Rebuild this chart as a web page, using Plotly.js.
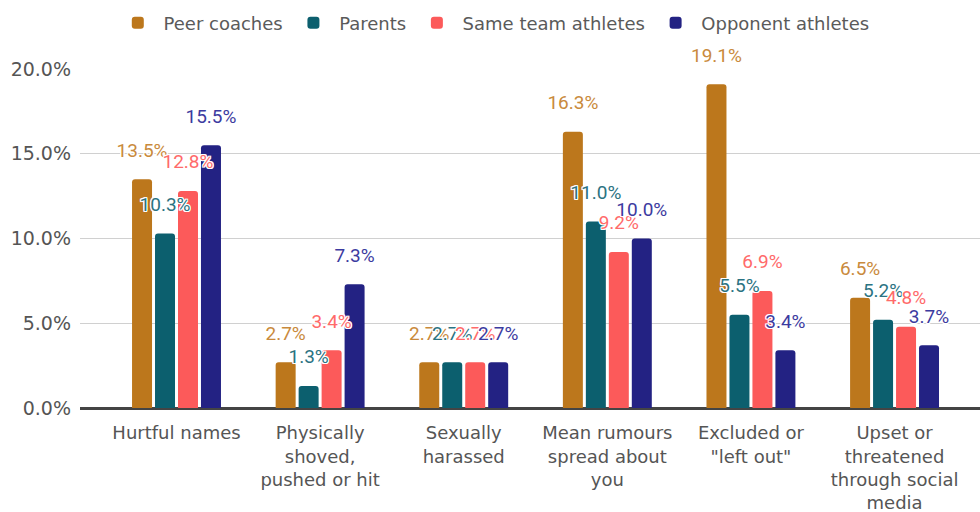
<!DOCTYPE html>
<html>
<head>
<meta charset="utf-8">
<script src="https://cdn.plot.ly/plotly-3.0.1.min.js"></script>
<style>html,body{margin:0;padding:0;background:#fff;}#chart{width:980px;height:512px;}</style>
</head>
<body>
<div id="chart"></div>
<script>
var categories = ["Hurtful names", "Physically<br>shoved,<br>pushed or hit", "Sexually<br>harassed", "Mean rumours<br>spread about<br>you", "Excluded or<br>\"left out\"", "Upset or<br>threatened<br>through social<br>media"];
var seriesNames = ["Peer coaches", "Parents", "Same team athletes", "Opponent athletes"];
var peerCoaches = [0.135, 0.027, 0.027, 0.163, 0.191, 0.065];
var parents = [0.103, 0.013, 0.027, 0.110, 0.055, 0.052];
var sameTeam = [0.128, 0.034, 0.027, 0.092, 0.069, 0.048];
var opponent = [0.155, 0.073, 0.027, 0.100, 0.034, 0.037];
var yTickValues = [0, 0.05, 0.10, 0.15, 0.20];

var barColors = ["#BC771C", "#0C5F6E", "#FC5A5A", "#232283"];
var labelColors = ["#C98A3C", "#2B7382", "#FF6A6A", "#3C3BA0"];
var seriesValues = [peerCoaches, parents, sameTeam, opponent];

var shadow = "1px 1px 0 #fff, -1px -1px 0 #fff, 1px -1px 0 #fff, -1px 1px 0 #fff, 0 1px 0 #fff, 0 -1px 0 #fff, 1px 0 0 #fff, -1px 0 0 #fff";
var nb = "\u00a0";

var barTraces = seriesValues.map(function (vals, i) {
  return {
    type: "bar",
    name: nb + seriesNames[i] + nb,
    x: categories,
    y: vals,
    offsetgroup: String(i),
    marker: {color: barColors[i], line: {width: 0}},
    hoverinfo: "none"
  };
});

var labelTraces = seriesValues.map(function (vals, i) {
  return {
    type: "scatter",
    mode: "markers+text",
    name: seriesNames[i] + " labels",
    showlegend: false,
    x: categories,
    y: vals,
    offsetgroup: String(i),
    texttemplate: "%{y:.1%}",
    textposition: "top center",
    marker: {size: 27, opacity: 0, color: "rgba(0,0,0,0)"},
    cliponaxis: false,
    textfont: {family: "Roboto, sans-serif", size: 19, color: labelColors[i], shadow: shadow},
    hoverinfo: "none"
  };
});

var layout = {
  width: 980,
  height: 512,
  margin: {l: 80, r: 0, t: 69, b: 104, pad: 0},
  paper_bgcolor: "#fff",
  plot_bgcolor: "#fff",
  barmode: "group",
  scattermode: "group",
  bargap: 0.36,
  scattergap: 0.36,
  bargroupgap: 0.13,
  barcornerradius: 3,
  font: {family: "DejaVu Sans, sans-serif", size: 18, color: "#555"},
  showlegend: true,
  legend: {
    orientation: "h",
    x: 0.042,
    xanchor: "left",
    y: 1.19,
    yanchor: "top",
    font: {family: "DejaVu Sans, sans-serif", size: 18, color: "#5a5a5a"},
    itemclick: false,
    traceorder: "normal"
  },
  xaxis: {
    type: "category",
    range: [-0.672, 5.595],
    showgrid: false,
    showline: true,
    linecolor: "#444",
    linewidth: 1.5,
    ticks: "",
    ticklabelstandoff: 8,
    tickfont: {family: "DejaVu Sans, sans-serif", size: 18, color: "#555"},
    fixedrange: true
  },
  yaxis: {
    range: [0, 0.2],
    tickvals: yTickValues,
    tickformat: ".1%",
    showgrid: true,
    gridcolor: "#d0d0d0",
    gridwidth: 1,
    zeroline: true,
    zerolinecolor: "#444",
    zerolinewidth: 1.5,
    ticks: "",
    ticklabelstandoff: 8,
    tickfont: {family: "DejaVu Sans, sans-serif", size: 19, color: "#555"},
    fixedrange: true
  }
};

Plotly.newPlot("chart", barTraces.concat(labelTraces), layout, {displayModeBar: false, staticPlot: true});
</script>
</body>
</html>
